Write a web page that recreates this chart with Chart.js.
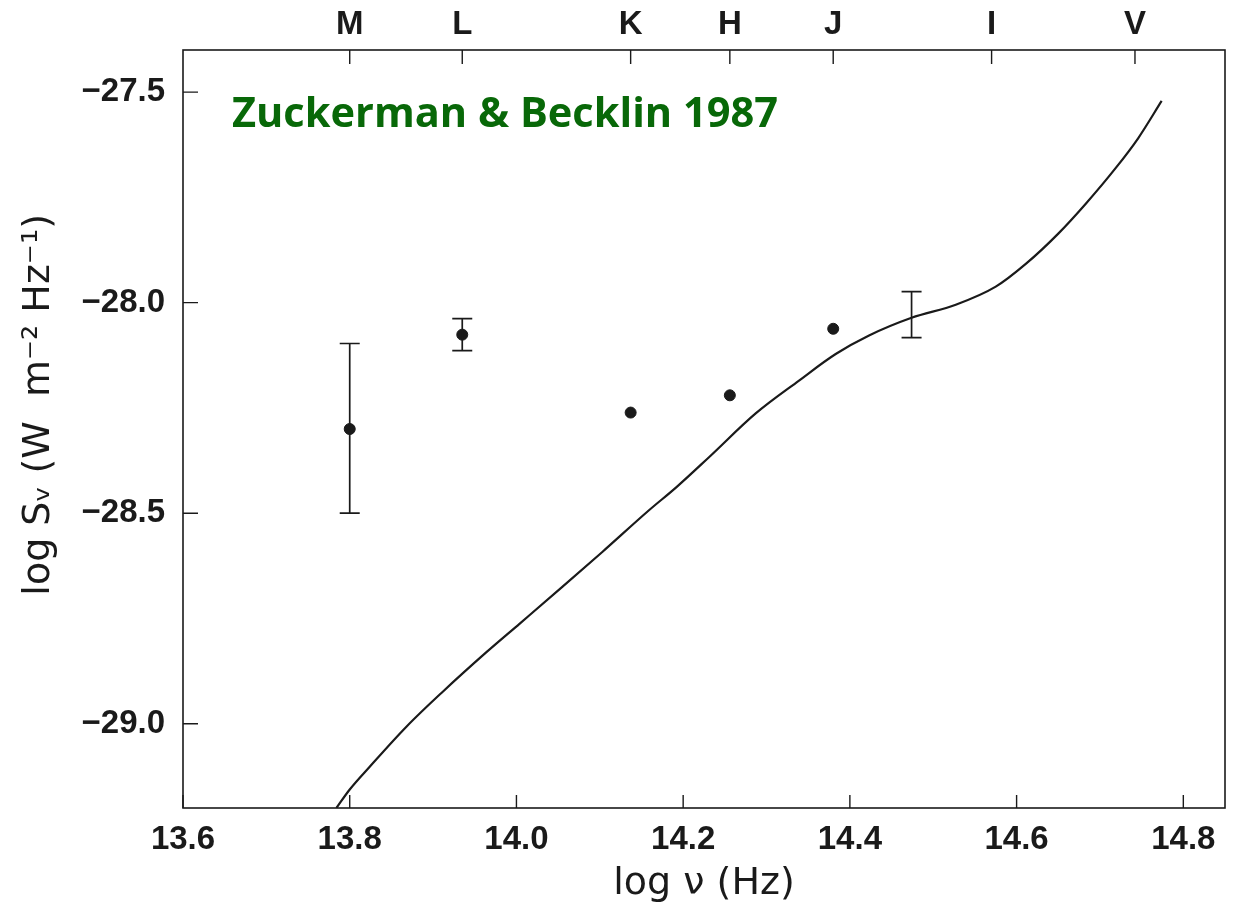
<!DOCTYPE html>
<html>
<head>
<meta charset="utf-8">
<script src="https://cdn.jsdelivr.net/npm/chart.js@4"></script>
<style>
  html, body { margin: 0; padding: 0; background: #fff; }
  #wrap { width: 1237px; height: 909px; }
</style>
</head>
<body>
<div id="wrap"><canvas id="sed"></canvas></div>
<script>
// axis ticks
const xTicks = [13.6, 13.8, 14.0, 14.2, 14.4, 14.6, 14.8];
const yTicks = [-29.0, -28.5, -28.0, -27.5];

// photometric bands (top axis)
const bandNames = ['M', 'L', 'K', 'H', 'J', 'I', 'V'];
const bandX = [13.8, 13.935, 14.137, 14.256, 14.380, 14.570, 14.742];

// measured fluxes
const pointX = [13.8, 13.935, 14.137, 14.256, 14.380];
const pointY = [-28.30, -28.076, -28.261, -28.220, -28.062];

// error bars
const errX = [13.8, 13.935, 14.474];
const errLow = [-28.50, -28.114, -28.083];
const errHigh = [-28.097, -28.038, -27.974];

// model curve
const curveX = [13.784, 13.800, 13.824, 13.868, 13.911, 13.964, 14.004, 14.055, 14.103, 14.159, 14.192, 14.231,
  14.287, 14.339, 14.383, 14.423, 14.474, 14.527, 14.575, 14.611, 14.650, 14.683, 14.719, 14.746, 14.774];
const curveY = [-29.200, -29.156, -29.102, -29.007, -28.925, -28.830, -28.762, -28.675, -28.592, -28.493, -28.438, -28.367,
  -28.263, -28.185, -28.122, -28.078, -28.036, -28.005, -27.962, -27.908, -27.836, -27.765, -27.680, -27.609, -27.521];

const ink = '#1a1a1a';
const tickFont = { family: "'Liberation Sans', Arial, sans-serif", size: 33, weight: 'bold' };
const titleFont = { family: "'DejaVu Sans', sans-serif", size: 38 };

// frame, inward ticks, error bars and the green label
const extras = {
  id: 'extras',
  afterDatasetsDraw(chart) {
    const ctx = chart.ctx;
    const a = chart.chartArea;
    const xs = chart.scales.x, ys = chart.scales.y;
    ctx.save();
    ctx.strokeStyle = ink;
    ctx.lineWidth = 1.6;
    ctx.strokeRect(a.left, a.top, a.right - a.left, a.bottom - a.top);

    ctx.lineWidth = 1.4;
    ctx.beginPath();
    xTicks.forEach(v => {
      const px = xs.getPixelForValue(v);
      ctx.moveTo(px, a.bottom); ctx.lineTo(px, a.bottom - 13);
    });
    yTicks.forEach(v => {
      const py = ys.getPixelForValue(v);
      ctx.moveTo(a.left, py); ctx.lineTo(a.left + 15, py);
    });
    bandX.forEach(v => {
      const px = xs.getPixelForValue(v);
      ctx.moveTo(px, a.top); ctx.lineTo(px, a.top + 14);
    });
    ctx.stroke();

    // error bars
    ctx.lineWidth = 1.7;
    ctx.beginPath();
    errX.forEach((v, i) => {
      const px = xs.getPixelForValue(v);
      const lo = ys.getPixelForValue(errLow[i]);
      const hi = ys.getPixelForValue(errHigh[i]);
      ctx.moveTo(px, lo); ctx.lineTo(px, hi);
      ctx.moveTo(px - 10, lo); ctx.lineTo(px + 10, lo);
      ctx.moveTo(px - 10, hi); ctx.lineTo(px + 10, hi);
    });
    ctx.stroke();

    ctx.fillStyle = '#086808';
    ctx.font = "bold 42px 'Comic Sans MS', 'Open Sans', Lato, sans-serif";
    ctx.textBaseline = 'alphabetic';
    ctx.fillText('Zuckerman & Becklin 1987', a.left + 49, a.top + 77, 546);
    ctx.restore();
  }
};

new Chart(document.getElementById('sed'), {
  type: 'scatter',
  data: {
    datasets: [
      {
        type: 'line',
        label: 'model',
        data: curveX.map((x, i) => ({ x: x, y: curveY[i] })),
        borderColor: ink,
        borderWidth: 2.2,
        pointRadius: 0,
        cubicInterpolationMode: 'monotone',
        fill: false
      },
      {
        label: 'observed',
        data: pointX.map((x, i) => ({ x: x, y: pointY[i] })),
        backgroundColor: ink,
        borderColor: ink,
        pointRadius: 5.5
      }
    ]
  },
  options: {
    responsive: true,
    maintainAspectRatio: false,
    animation: false,
    layout: { padding: { left: 0, right: 12, top: 0, bottom: 0 } },
    plugins: { legend: { display: false }, tooltip: { enabled: false } },
    scales: {
      x: {
        type: 'linear',
        position: 'bottom',
        min: 13.6, max: 14.85,
        afterBuildTicks: s => { s.ticks = xTicks.map(v => ({ value: v })); },
        afterFit: s => { s.height = 101; },
        grid: { display: false, drawTicks: false },
        border: { display: false },
        ticks: { color: ink, font: tickFont, padding: 12, maxRotation: 0, callback: v => v.toFixed(1) },
        title: {
          display: true,
          text: 'log \u03BD (Hz)',
          color: ink,
          font: titleFont,
          padding: { top: 0, bottom: 2 }
        }
      },
      x2: {
        type: 'linear',
        position: 'top',
        min: 13.6, max: 14.85,
        afterBuildTicks: s => { s.ticks = bandX.map(v => ({ value: v })); },
        afterFit: s => { s.height = 50; },
        grid: { display: false, drawTicks: false },
        border: { display: false },
        ticks: { color: ink, font: tickFont, padding: 5, maxRotation: 0, autoSkip: false,
          callback: (v, i) => bandNames[i] }
      },
      y: {
        type: 'linear',
        min: -29.2, max: -27.4,
        afterBuildTicks: s => { s.ticks = yTicks.map(v => ({ value: v })); },
        afterFit: s => { s.width = 183; },
        grid: { display: false, drawTicks: false },
        border: { display: false },
        ticks: { color: ink, font: tickFont, padding: 18,
          callback: v => v.toFixed(1).replace('-', '\u2212') },
        title: {
          display: true,
          text: '\u00A0\u00A0\u00A0\u00A0log S\u1D65 (W  m\u207B\u00B2 Hz\u207B\u00B9)',
          color: ink,
          font: titleFont,
          padding: { top: 16, bottom: 0 }
        }
      }
    }
  },
  plugins: [extras]
});
</script>
</body>
</html>
